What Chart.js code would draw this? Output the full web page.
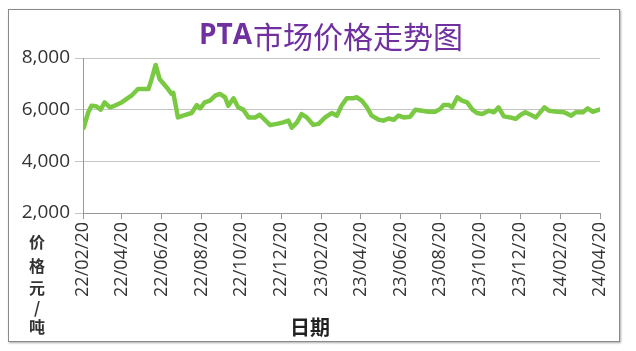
<!DOCTYPE html>
<html><head><meta charset="utf-8">
<script src="https://cdn.jsdelivr.net/npm/chart.js@4/dist/chart.umd.min.js"></script>
<style>
html,body{margin:0;padding:0;background:#fff;}
#wrap{position:relative;width:636px;height:351px;overflow:hidden;}
#frame{position:absolute;left:8px;top:9px;width:610px;height:331px;border:1px solid #8a8a8a;box-shadow:1px 1px 2px #aaa;}
canvas{position:absolute;left:0;top:0;}
</style></head><body>
<div id="wrap"><div id="frame"></div><canvas id="c" width="636" height="351"></canvas></div>
<script>
const chartTitleLatin = 'PTA';
const chartTitleCjk = '市场价格走势图';
const yTitleChars = ['价', '格', '元', '/', '吨'];
const xTitle = '日期';

const tickDates = ['2022-02-20','2022-04-20','2022-06-20','2022-08-20','2022-10-20','2022-12-20','2023-02-20','2023-04-20','2023-06-20','2023-08-20','2023-10-20','2023-12-20','2024-02-20','2024-04-20'];
const tickLabels = ['22/02/20','22/04/20','22/06/20','22/08/20','22/10/20','22/12/20','23/02/20','23/04/20','23/06/20','23/08/20','23/10/20','23/12/20','24/02/20','24/04/20'];

const dates = [
'2022-02-21','2022-02-28','2022-03-05','2022-03-12','2022-03-19','2022-03-25','2022-04-02','2022-04-09','2022-04-20','2022-05-05',
'2022-05-15','2022-05-31','2022-06-05','2022-06-11','2022-06-17','2022-06-28','2022-07-05','2022-07-08','2022-07-15','2022-07-23',
'2022-08-05','2022-08-13','2022-08-18','2022-08-25','2022-09-02','2022-09-10','2022-09-17','2022-09-25','2022-09-30','2022-10-08',
'2022-10-15','2022-10-23','2022-10-31','2022-11-10','2022-11-17','2022-11-23','2022-12-03','2022-12-13','2022-12-23','2022-12-31',
'2023-01-05','2023-01-13','2023-01-20','2023-01-28','2023-02-07','2023-02-15','2023-02-25','2023-03-07','2023-03-15','2023-03-22',
'2023-03-30','2023-04-09','2023-04-14','2023-04-22','2023-04-30','2023-05-07','2023-05-18','2023-05-25','2023-06-02','2023-06-10',
'2023-06-17','2023-06-25','2023-07-05','2023-07-13','2023-07-23','2023-08-02','2023-08-12','2023-08-20','2023-08-25','2023-09-02',
'2023-09-07','2023-09-15','2023-09-22','2023-09-30','2023-10-08','2023-10-15','2023-10-23','2023-11-02','2023-11-10','2023-11-17',
'2023-11-25','2023-12-05','2023-12-13','2023-12-21','2023-12-28','2024-01-05','2024-01-13','2024-01-26','2024-02-02','2024-02-15',
'2024-02-25','2024-03-07','2024-03-14','2024-03-25','2024-04-01','2024-04-09','2024-04-19'];

const prices = [
5300,5900,6150,6130,6000,6280,6090,6150,6280,6540,
6800,6800,7190,7730,7190,6860,6620,6650,5700,5770,
5870,6180,6050,6280,6350,6540,6610,6480,6150,6440,
6090,6000,5700,5700,5800,5650,5400,5450,5510,5575,
5300,5510,5830,5700,5410,5450,5700,5870,5770,6150,
6440,6440,6480,6350,6090,5770,5610,5575,5660,5610,
5770,5700,5730,6000,5960,5920,5920,6030,6180,6180,
6090,6480,6350,6280,6000,5870,5830,5960,5900,6090,
5740,5700,5640,5800,5900,5800,5700,6090,5960,5920,
5900,5770,5900,5900,6050,5920,6000];

const yMin = 2000, yMax = 8000, yStep = 2000;

const baseDate = tickDates[0];
function dayOf(s){
  const [y,m,d] = s.split('-').map(Number);
  const [by,bm,bd] = baseDate.split('-').map(Number);
  return Math.round((Date.UTC(y,m-1,d) - Date.UTC(by,bm-1,bd)) / 86400000);
}
const tickDays = tickDates.map(dayOf);
const points = dates.map((d,i)=>({x: dayOf(d), y: prices[i]}));

const textPlugin = {
  id: 'texts',
  afterDraw(chart){
    const ctx = chart.ctx;
    ctx.save();
    ctx.fillStyle = '#7030A0';
    ctx.textBaseline = 'middle';
    const f1 = 'bold 28px "Open Sans", "Noto Sans", sans-serif';
    const f2 = '30px "Noto Sans CJK SC", sans-serif';
    ctx.font = f1; const w1 = ctx.measureText(chartTitleLatin).width;
    ctx.font = f2; const w2 = ctx.measureText(chartTitleCjk).width;
    const cx = 331, cy = 36;
    let x0 = cx - (w1 + w2 + 1)/2;
    ctx.textAlign = 'left';
    ctx.font = f1; ctx.fillText(chartTitleLatin, x0, cy);
    ctx.font = f2; ctx.fillText(chartTitleCjk, x0 + w1 + 1, cy + 1);
    ctx.fillStyle = '#333';
    ctx.textAlign = 'center';
    ctx.font = 'bold 16px "Noto Sans CJK SC", sans-serif';
    const ys = [242, 266, 288, 308, 327];
    yTitleChars.forEach((ch,i)=>ctx.fillText(ch, 37, ys[i]));
    ctx.font = 'bold 20px "Noto Sans CJK SC", sans-serif';
    ctx.fillStyle = '#222';
    ctx.fillText(xTitle, 310, 327);
    ctx.restore();
  }
};

new Chart(document.getElementById('c'), {
  type: 'line',
  data: {
    datasets: [{
      data: points,
      borderColor: '#7ac943',
      borderWidth: 4.5,
      pointRadius: 0,
      tension: 0,
      borderJoinStyle: 'round',
      borderCapStyle: 'round',
      fill: false
    }]
  },
  options: {
    responsive: false,
    animation: false,
    layout: { padding: { left: 0, right: 36, top: 58, bottom: 0 } },
    plugins: { legend: { display: false }, title: { display: false }, tooltip: { enabled: false } },
    scales: {
      x: {
        type: 'linear',
        min: tickDays[0],
        max: tickDays[tickDays.length-1],
        afterBuildTicks(scale){ scale.ticks = tickDays.map(v=>({value:v})); },
        afterFit(scale){ scale.height = 138; },
        ticks: {
          autoSkip: false,
          maxRotation: 90, minRotation: 90,
          padding: 3,
          color: '#333',
          font: { family: '"Open Sans", sans-serif', size: 18 },
          callback(v, i){ return tickLabels[i]; }
        },
        grid: { drawOnChartArea: false, drawTicks: true, tickLength: 6, color: '#999' },
        border: { display: true, color: '#999' }
      },
      y: {
        min: yMin, max: yMax,
        afterBuildTicks(scale){
          const t = []; for (let v = yMin; v <= yMax; v += yStep) t.push({value: v});
          scale.ticks = t;
        },
        afterFit(scale){ scale.width = 83; },
        ticks: {
          padding: 5,
          color: '#333',
          font: { family: '"Open Sans", sans-serif', size: 19 },
          callback(v){ return v.toLocaleString('en-US'); }
        },
        grid: { color: '#c4c4c4', tickLength: 8, drawTicks: true },
        border: { display: true, color: '#999' }
      }
    }
  },
  plugins: [textPlugin]
});
</script>
</body></html>
